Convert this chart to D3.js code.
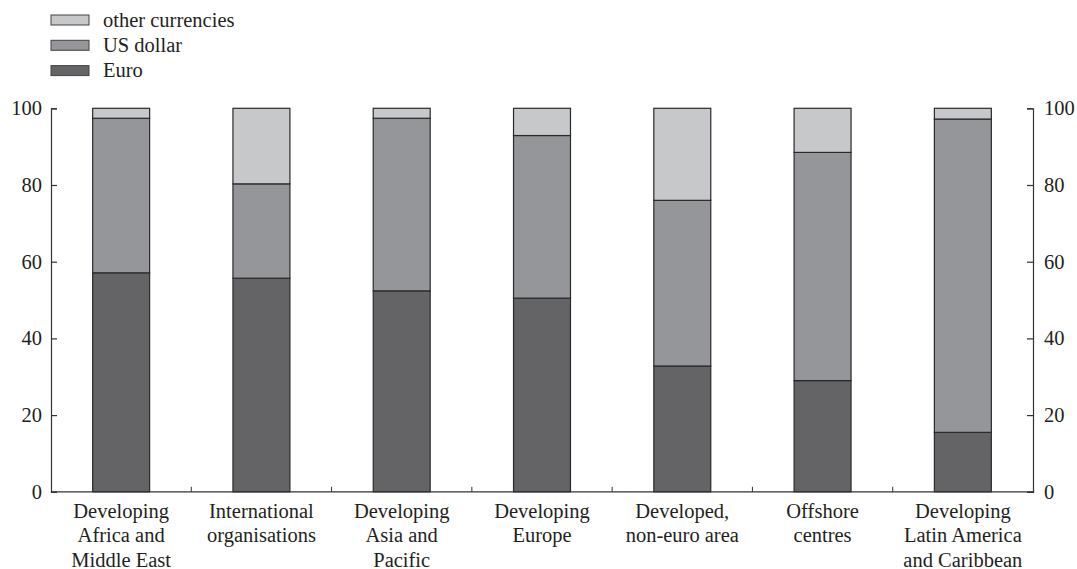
<!DOCTYPE html>
<html>
<head>
<meta charset="utf-8">
<script src="https://cdn.jsdelivr.net/npm/d3@7"></script>
<style>
  html, body { margin: 0; padding: 0; background: #fff; }
  svg { display: block; }
  text { font-family: "Liberation Serif", "Times New Roman", serif; fill: #231f20; }
</style>
</head>
<body>
<svg id="chart" width="1077" height="569"></svg>
<script>
const categories = [
  ["Developing", "Africa and", "Middle East"],
  ["International", "organisations"],
  ["Developing", "Asia and", "Pacific"],
  ["Developing", "Europe"],
  ["Developed,", "non-euro area"],
  ["Offshore", "centres"],
  ["Developing", "Latin America", "and Caribbean"]
];
const euro = [57.1, 55.7, 52.4, 50.5, 32.8, 29.0, 15.5];
const usDollar = [40.3, 24.6, 45.0, 42.4, 43.2, 59.5, 81.7];
const other = [2.6, 19.7, 2.6, 7.1, 24.0, 11.5, 2.8];
const seriesNames = ["Euro", "US dollar", "other currencies"];
const seriesColors = ["#646466", "#95969a", "#c7c8ca"];
const yTicks = [0, 20, 40, 60, 80, 100];

const svg = d3.select("#chart");
const mLeft = 51, mRight = 1033, mTop = 108.3, mBottom = 491.8;
const fs = "20.5px";

const x = d3.scaleBand().domain(d3.range(categories.length)).range([mLeft, mRight]).paddingInner(0.594).paddingOuter(0.297);
const y = d3.scaleLinear().domain([0, 100]).range([mBottom, mTop]);

const rows = categories.map((c, i) => ({ i, "Euro": euro[i], "US dollar": usDollar[i], "other currencies": other[i] }));
const stack = d3.stack().keys(seriesNames)(rows);

// bars
svg.append("g").selectAll("g").data(stack).join("g")
  .attr("fill", (d, k) => seriesColors[k])
  .selectAll("rect").data(d => d).join("rect")
  .attr("x", d => x(d.data.i))
  .attr("width", x.bandwidth())
  .attr("y", d => y(d[1]))
  .attr("height", d => y(d[0]) - y(d[1]))
  .attr("stroke", "#2a2a2c")
  .attr("stroke-width", 1.2);

// left axis
const yl = svg.append("g").attr("transform", `translate(${mLeft},0)`)
  .call(d3.axisRight(y).tickValues(yTicks).tickSize(6).tickFormat(d3.format("d")));
yl.selectAll("text").attr("x", -9).attr("text-anchor", "end").style("font-size", fs);
// right axis
const yr = svg.append("g").attr("transform", `translate(${mRight},0)`)
  .call(d3.axisLeft(y).tickValues(yTicks).tickSize(6).tickFormat(d3.format("d")));
yr.selectAll("text").attr("x", 11).attr("text-anchor", "start").style("font-size", fs);

// bottom axis: separator ticks between categories
const xb = svg.append("g").attr("transform", `translate(0,${mBottom})`)
  .call(d3.axisBottom(x).tickSize(0).tickFormat(""));
xb.select(".domain").attr("d", `M${mLeft},0H${mRight}`);
const step = x.step();
xb.selectAll(".sep").data(d3.range(1, categories.length)).join("line")
  .attr("class", "sep")
  .attr("x1", k => x(k) - step * x.paddingInner() / 2)
  .attr("x2", k => x(k) - step * x.paddingInner() / 2)
  .attr("y1", 0).attr("y2", -5)
  .attr("stroke", "#333");
svg.selectAll(".domain").attr("stroke", "#333").attr("stroke-width", 1.2);
svg.selectAll(".tick line").attr("stroke", "#333").attr("stroke-width", 1.2);

// category labels
const labels = svg.append("g").selectAll("text").data(categories).join("text")
  .attr("x", (d, i) => x(i) + x.bandwidth() / 2)
  .attr("y", 517.5)
  .attr("text-anchor", "middle")
  .style("font-size", fs);
labels.selectAll("tspan").data(d => d).join("tspan")
  .attr("x", function() { return this.parentNode.getAttribute("x"); })
  .attr("dy", (d, j) => j === 0 ? 0 : 24.5)
  .text(d => d);

// legend (top-down: other, US dollar, Euro)
const legendOrder = [2, 1, 0];
const lg = svg.append("g").selectAll("g").data(legendOrder).join("g")
  .attr("transform", (k, j) => `translate(51,${20 + j * 25.3})`);
lg.append("rect").attr("x", 0).attr("y", -5).attr("width", 38).attr("height", 10)
  .attr("fill", k => seriesColors[k]).attr("stroke", "#444").attr("stroke-width", 1);
lg.append("text").attr("x", 52).attr("y", 6.5).style("font-size", fs).text(k => seriesNames[k]);
</script>
</body>
</html>
